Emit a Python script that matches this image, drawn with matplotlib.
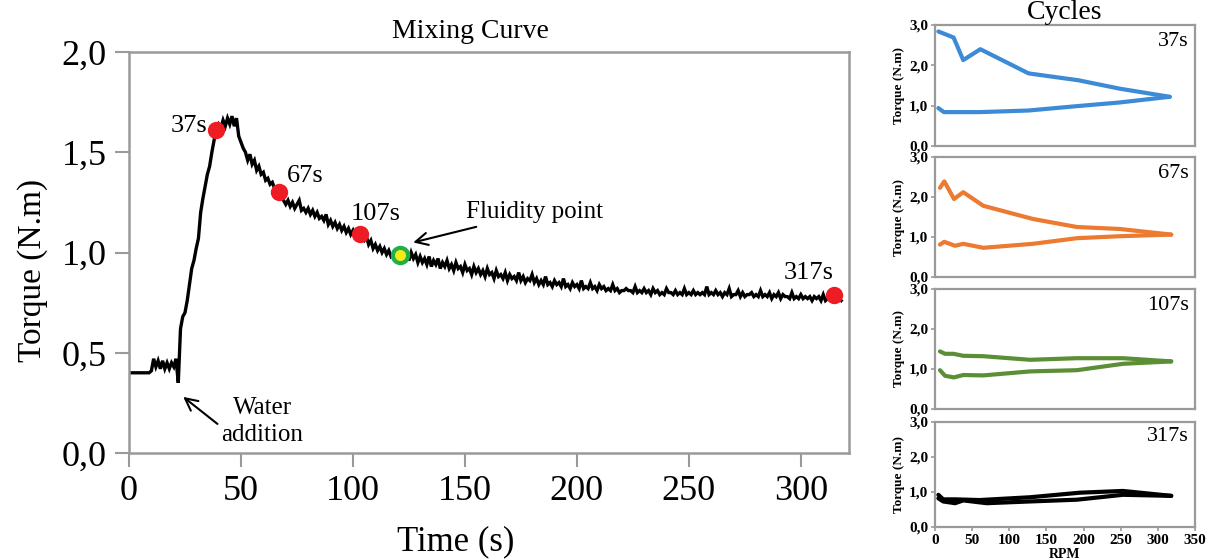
import numpy as np
import matplotlib
matplotlib.use("Agg")
import matplotlib.pyplot as plt

plt.rcParams['font.family'] = ['Liberation Serif', 'DejaVu Serif']

# ---------------- Data ----------------
# Mixing curve: torque (N.m) sampled every second from t = 0 s
torque = [
    0.40, 0.40, 0.40, 0.40, 0.40, 0.40, 0.40, 0.40, 0.40, 0.40,   # 0-9
    0.41, 0.47, 0.43, 0.46, 0.42, 0.46, 0.42, 0.45, 0.42, 0.45,   # 10-19
    0.43, 0.47, 0.35, 0.62, 0.68, 0.70, 0.76, 0.84, 0.92, 0.96,   # 20-29
    1.02, 1.07, 1.20, 1.27, 1.33, 1.39, 1.43, 1.50, 1.56, 1.62,   # 30-39
    1.64, 1.62, 1.66, 1.63, 1.67, 1.64, 1.68, 1.63, 1.67, 1.58,   # 40-49
    1.55, 1.52, 1.50, 1.46, 1.49, 1.44, 1.46, 1.41, 1.43, 1.39,   # 50-59
    1.40, 1.36, 1.37, 1.34, 1.35, 1.32, 1.31, 1.30, 1.28, 1.26,   # 60-69
    1.24, 1.26, 1.23, 1.25, 1.22, 1.24, 1.26, 1.21, 1.22, 1.20,   # 70-79
    1.22, 1.19, 1.21, 1.18, 1.20, 1.17, 1.18, 1.16, 1.19, 1.14,   # 80-89
    1.16, 1.13, 1.15, 1.12, 1.14, 1.11, 1.13, 1.10, 1.12, 1.09,   # 90-99
    1.11, 1.08, 1.10, 1.09, 1.07, 1.06, 1.08, 1.04, 1.06, 1.02,   # 100-109
    1.04, 1.01, 1.03, 1.00, 1.02, 0.99, 1.01, 0.98, 0.99, 0.98,   # 110-119
    0.99, 0.99, 1.00, 0.97, 1.01, 0.96, 1.00, 0.97, 0.99, 0.95,   # 120-129
    0.98, 0.95, 0.97, 0.94, 0.98, 0.93, 0.96, 0.94, 0.97, 0.92,   # 130-139
    0.95, 0.93, 0.96, 0.92, 0.94, 0.91, 0.95, 0.92, 0.93, 0.90,   # 140-149
    0.94, 0.91, 0.92, 0.89, 0.93, 0.90, 0.92, 0.89, 0.91, 0.88,   # 150-159
    0.92, 0.89, 0.90, 0.87, 0.91, 0.88, 0.89, 0.87, 0.90, 0.86,   # 160-169
    0.89, 0.87, 0.88, 0.86, 0.90, 0.86, 0.88, 0.85, 0.87, 0.86,   # 170-179
    0.89, 0.85, 0.87, 0.84, 0.86, 0.84, 0.88, 0.84, 0.85, 0.83,   # 180-189
    0.86, 0.84, 0.85, 0.83, 0.87, 0.83, 0.84, 0.82, 0.85, 0.83,   # 190-199
    0.84, 0.82, 0.86, 0.82, 0.83, 0.82, 0.85, 0.82, 0.83, 0.81,   # 200-209
    0.84, 0.82, 0.83, 0.81, 0.82, 0.81, 0.84, 0.81, 0.82, 0.80,   # 210-219
    0.81, 0.81, 0.82, 0.81, 0.81, 0.80, 0.83, 0.80, 0.81, 0.80,   # 220-229
    0.82, 0.80, 0.81, 0.79, 0.82, 0.80, 0.81, 0.79, 0.80, 0.79,   # 230-239
    0.82, 0.80, 0.80, 0.79, 0.81, 0.79, 0.80, 0.79, 0.82, 0.79,   # 240-249
    0.80, 0.79, 0.81, 0.79, 0.80, 0.79, 0.80, 0.79, 0.83, 0.79,   # 250-259
    0.80, 0.79, 0.81, 0.79, 0.80, 0.78, 0.80, 0.79, 0.82, 0.78,   # 260-269
    0.79, 0.79, 0.81, 0.78, 0.80, 0.78, 0.79, 0.79, 0.80, 0.78,   # 270-279
    0.79, 0.78, 0.81, 0.78, 0.79, 0.78, 0.80, 0.77, 0.79, 0.78,   # 280-289
    0.80, 0.77, 0.79, 0.78, 0.78, 0.77, 0.80, 0.77, 0.78, 0.77,   # 290-299
    0.79, 0.77, 0.78, 0.77, 0.78, 0.76, 0.78, 0.77, 0.78, 0.76,   # 300-309
    0.79, 0.76, 0.77, 0.78, 0.76, 0.77, 0.76, 0.77, 0.76,         # 310-318
]
time_s = np.arange(len(torque))

# Highlighted points on the mixing curve
point_times = [39, 67, 103, 315]
point_torques = [1.61, 1.30, 1.09, 0.79]
point_labels = ["37s", "67s", "107s", "317s"]
fluidity_time = 121
fluidity_torque = 0.99

# Cycles (RPM vs torque): up-ramp (lower branch) and down-ramp (upper branch)
cyc37_rpm_up = [4.5, 12, 60, 126, 186, 249, 316]
cyc37_tq_up = [0.94, 0.84, 0.84, 0.88, 0.98, 1.08, 1.22]
cyc37_rpm_dn = [316, 249, 193, 126, 61, 38, 25, 4.5]
cyc37_tq_dn = [1.22, 1.42, 1.63, 1.80, 2.40, 2.13, 2.69, 2.84]

cyc67_rpm_up = [6.7, 12.5, 27, 38, 65, 132, 191, 249, 318]
cyc67_tq_up = [0.81, 0.88, 0.78, 0.83, 0.73, 0.83, 0.97, 1.02, 1.06]
cyc67_rpm_dn = [318, 249, 191, 132, 65, 38, 25.6, 12.5, 6.7]
cyc67_tq_dn = [1.06, 1.20, 1.25, 1.45, 1.78, 2.12, 1.95, 2.39, 2.23]

cyc107_rpm_up = [6.7, 13.5, 25.6, 38, 65, 128, 191, 253, 318]
cyc107_tq_up = [0.97, 0.83, 0.79, 0.85, 0.84, 0.94, 0.97, 1.13, 1.19]
cyc107_rpm_dn = [318, 253, 191, 128, 65, 38, 24.7, 13.5, 6.7]
cyc107_tq_dn = [1.19, 1.27, 1.27, 1.23, 1.32, 1.33, 1.38, 1.38, 1.44]

cyc317_rpm_up = [4.5, 11, 27, 38, 69.5, 128, 191, 253, 318]
cyc317_tq_up = [0.82, 0.73, 0.68, 0.76, 0.68, 0.73, 0.78, 0.92, 0.89]
cyc317_rpm_dn = [318, 253, 195, 128, 60, 27, 11, 4.5]
cyc317_tq_dn = [0.89, 1.03, 0.98, 0.85, 0.77, 0.79, 0.79, 0.92]

main_xticks = [0, 50, 100, 150, 200, 250, 300]
main_yticks = [0.0, 0.5, 1.0, 1.5, 2.0]
cyc_yticks = [0.0, 1.0, 2.0, 3.0]
cyc_xticks = [0, 50, 100, 150, 200, 250, 300, 350]

# ---------------- Figure ----------------
W, H = 1211, 560
fig = plt.figure(figsize=(W / 100, H / 100), dpi=100)
spine_col = '#9A9A9A'

def fmt_comma(v):
    return f"{v:.1f}".replace('.', ',')

ax = fig.add_axes([129 / W, 1 - 453 / H, (849 - 129) / W, (453 - 52) / H])
ax.plot(time_s, torque, color='black', lw=2.4, solid_joinstyle='miter')
ax.plot(point_times, point_torques, 'o', color='#EE1C25', ms=12.5, mec='none', zorder=5)
ax.plot([fluidity_time], [fluidity_torque], 'o', color='#F5EA14', ms=11,
        mec='#1FAF4B', mew=3, zorder=5)
ax.set_xlim(0, 321.5)
ax.set_ylim(0, 2.0)
ax.set_xticks(main_xticks)
ax.set_xticklabels([str(v) for v in main_xticks])
ax.set_yticks(main_yticks)
ax.set_yticklabels([fmt_comma(v) for v in main_yticks])
ax.tick_params(axis='both', labelsize=26, length=10, width=1.5, color=spine_col,
               direction='out', pad=6)
for s in ax.spines.values():
    s.set_color(spine_col)
    s.set_linewidth(1.8)
ax.set_xlabel('Time (s)', fontsize=25, labelpad=12)
ax.xaxis.label.set_x(0.454)
ax.set_ylabel('Torque (N.m)', fontsize=24, labelpad=10)
ax.yaxis.label.set_y(0.456)
ax.set_title('Mixing Curve', fontsize=20, pad=10, x=0.474)

# point labels
ax.text(point_times[0] - 4, point_torques[0] + 0.02, point_labels[0], fontsize=19,
        ha='right', va='center')
ax.text(point_times[1] + 3.5, point_torques[1] + 0.08, point_labels[1], fontsize=19,
        ha='left', va='center')
ax.text(point_times[2] - 4, point_torques[2] + 0.10, point_labels[2], fontsize=19,
        ha='left', va='center')
ax.text(point_times[3] - 11.5, point_torques[3] + 0.11, point_labels[3], fontsize=19,
        ha='center', va='center')

ax.annotate('Fluidity point', xy=(126.9, 1.05), xytext=(150.5, 1.20),
            fontsize=18, ha='left', va='center',
            arrowprops=dict(arrowstyle='->', color='black', lw=1.5,
                            mutation_scale=22, shrinkA=2, shrinkB=0))
ax.annotate('', xy=(24.2, 0.28), xytext=(39.5, 0.145),
            arrowprops=dict(arrowstyle='->', color='black', lw=1.5,
                            mutation_scale=22, shrinkA=0, shrinkB=0))
ax.text(59.5, 0.155, 'Water\naddition', fontsize=18, ha='center', va='center',
        linespacing=1.3)

# ---------------- Cycles panels ----------------
panels = [
    (25, 146, cyc37_rpm_up, cyc37_tq_up, cyc37_rpm_dn, cyc37_tq_dn, '#3D8BD6', '37s'),
    (157, 277, cyc67_rpm_up, cyc67_tq_up, cyc67_rpm_dn, cyc67_tq_dn, '#EC7A30', '67s'),
    (289, 409, cyc107_rpm_up, cyc107_tq_up, cyc107_rpm_dn, cyc107_tq_dn, '#5C8E36', '107s'),
    (422, 527, cyc317_rpm_up, cyc317_tq_up, cyc317_rpm_dn, cyc317_tq_dn, '#000000', '317s'),
]
left_px, right_px = 935, 1195
for i, (top, bot, xu, yu, xd, yd, col, lab) in enumerate(panels):
    cax = fig.add_axes([left_px / W, 1 - bot / H, (right_px - left_px) / W, (bot - top) / H])
    cax.plot(xu, yu, color=col, lw=3.0, solid_capstyle='round', solid_joinstyle='round')
    cax.plot(xd, yd, color=col, lw=3.0, solid_capstyle='round', solid_joinstyle='round')
    cax.set_xlim(0, 350)
    cax.set_ylim(0, 3.0)
    cax.set_yticks(cyc_yticks)
    cax.set_yticklabels([fmt_comma(v) for v in cyc_yticks], fontweight='bold')
    cax.set_xticks(cyc_xticks)
    for s in cax.spines.values():
        s.set_color(spine_col)
        s.set_linewidth(1.6)
    cax.tick_params(axis='both', labelsize=11, length=3, width=1.2, color=spine_col,
                    direction='out', pad=2)
    cax.set_ylabel('Torque (N.m)', fontsize=9.5, fontweight='bold', labelpad=3)
    cax.text(0.975, 0.86, lab, transform=cax.transAxes, fontsize=16,
             ha='right', va='center')
    if i == 3:
        cax.set_xticklabels([str(v) for v in cyc_xticks], fontweight='bold')
        cax.set_xlabel('RPM', fontsize=10, fontweight='bold', labelpad=1)
    else:
        cax.tick_params(axis='x', length=0, labelbottom=False)
    if i == 0:
        cax.set_title('Cycles', fontsize=20, pad=1)

fig.savefig('out.png', dpi=100)
